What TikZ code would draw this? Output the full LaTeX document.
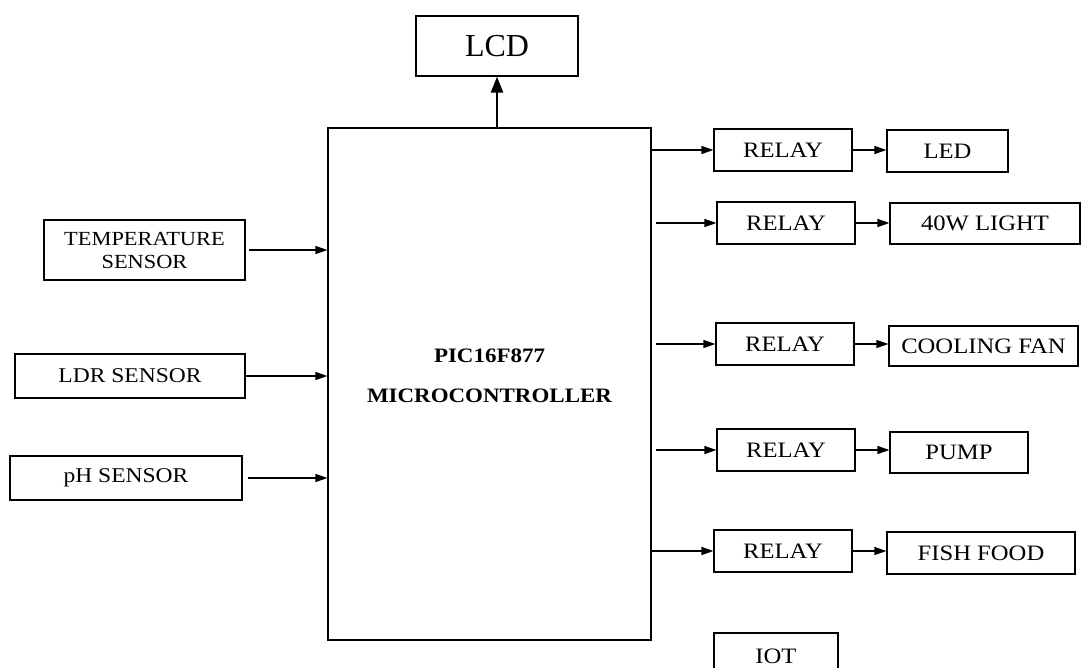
\documentclass[tikz,border=0pt]{standalone}
\usepackage{fontspec}
\setmainfont{Liberation Serif}
\newfontfamily\boxfont{Liberation Serif}[FakeStretch=1.12]
\usetikzlibrary{arrows.meta, positioning}

\begin{document}
\begin{tikzpicture}[
    x=1pt, y=-1pt,
    every node/.style={align=center},
    block/.style={draw, line width=1.2pt, inner sep=0pt,
                  font=\boxfont\fontsize{22}{26}\selectfont},
    sensor/.style={block, font=\boxfont\fontsize{21}{23}\selectfont},
    relaybox/.style={block, minimum width=138, minimum height=42},
    link/.style={line width=1.2pt, -{Triangle[length=12pt, width=8pt]}}
]
\clip (0,0) rectangle (1081,667);
\useasboundingbox (0,0) rectangle (1081,667);

% display and controller
\node[block, minimum width=162, minimum height=60,
      font=\fontsize{32}{36}\selectfont] (lcd) at (497,46) {LCD};
\node[block, minimum width=323, minimum height=512] (mcu) at (489.5,384) {};
\node[font=\boxfont\bfseries\fontsize{20.5}{24}\selectfont] (mcutext)
      at ([yshift=8pt]mcu.center) {PIC16F877\\[16pt]MICROCONTROLLER};

% sensors
\node[sensor, minimum width=201, minimum height=60,
      font=\boxfont\fontsize{20}{23}\selectfont] (temp) at (144.5,250)
      {TEMPERATURE\\SENSOR};
\node[sensor, minimum width=230, minimum height=44] (ldr) at (130,376) {LDR SENSOR};
\node[sensor, minimum width=232, minimum height=44] (ph) at (126,478) {pH SENSOR};

% relays and loads
\node[relaybox] (r1) at (783,150) {RELAY};
\node[relaybox] (r2) at (786,223) {RELAY};
\node[relaybox] (r3) at (785,344) {RELAY};
\node[relaybox] (r4) at (786,450) {RELAY};
\node[relaybox] (r5) at (783,551) {RELAY};
\node[block, minimum width=121, minimum height=42] (led) at (947.5,151) {LED};
\node[block, minimum width=190, minimum height=41] (light) at (985,223.5) {40W LIGHT};
\node[block, minimum width=189, minimum height=40] (fan) at (983.5,346) {COOLING FAN};
\node[block, minimum width=138, minimum height=41] (pump) at (959,452.5) {PUMP};
\node[block, minimum width=188, minimum height=42] (food) at (981,553) {FISH FOOD};
\node[block, minimum width=124, minimum height=46] (iot) at (776,656) {IOT};

% connectors
\draw[line width=2.4pt, -{Triangle[length=16pt, width=12pt]}]
      (mcu.north -| lcd.south) -- (lcd.south);
\draw[link] ([xshift=3pt]temp.east) -- (mcu.west |- temp.east);
\draw[link] (ldr.east) -- (mcu.west |- ldr.east);
\draw[link] ([xshift=5pt]ph.east) -- (mcu.west |- ph.east);
\draw[link] (mcu.east |- r1.east) -- (r1.west);
\draw[link] ([xshift=4pt]mcu.east |- r2.east) -- (r2.west);
\draw[link] ([xshift=4pt]mcu.east |- r3.east) -- (r3.west);
\draw[link] ([xshift=4pt]mcu.east |- r4.east) -- (r4.west);
\draw[link] (mcu.east |- r5.east) -- (r5.west);
\draw[link] (r1.east) -- (led.west |- r1.east);
\draw[link] (r2.east) -- (light.west |- r2.east);
\draw[link] (r3.east) -- (fan.west |- r3.east);
\draw[link] (r4.east) -- (pump.west |- r4.east);
\draw[link] (r5.east) -- (food.west |- r5.east);
\end{tikzpicture}
\end{document}
